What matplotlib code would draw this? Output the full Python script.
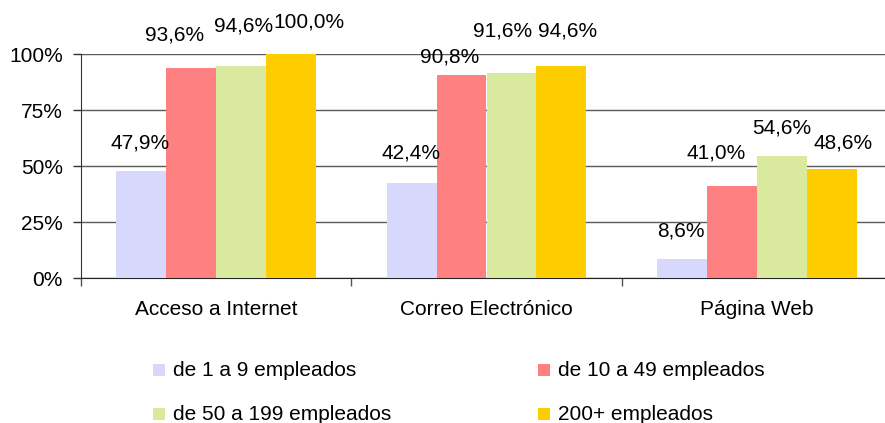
import matplotlib
matplotlib.use("Agg")
import matplotlib.pyplot as plt
from matplotlib.patches import Rectangle

categories = ["Acceso a Internet", "Correo Electrónico", "Página Web"]
series_names = ["de 1 a 9 empleados", "de 10 a 49 empleados",
                "de 50 a 199 empleados", "200+ empleados"]
v_1_9 = [47.9, 42.4, 8.6]
v_10_49 = [93.6, 90.8, 41.0]
v_50_199 = [94.6, 91.6, 54.6]
v_200 = [100.0, 94.6, 48.6]
values = [v_1_9, v_10_49, v_50_199, v_200]
y_ticks = [0, 25, 50, 75, 100]

colors = ["#D8D8FC", "#FF8080", "#D9EA9F", "#FFCC00"]

# label pixel offsets (dx, dy) mimicking the original's overlap avoidance
label_offsets = [
    [(-1, 28), (-1, 30), (-1, 28)],
    [(-17, 33), (-12, 18), (-16, 33)],
    [(2, 40), (-9, 42), (0, 28)],
    [(18, 32), (6, 35), (11, 26)],
]

FS = 15
plt.rcParams['font.family'] = ['Liberation Sans', 'DejaVu Sans']
W, H = 885, 423
fig = plt.figure(figsize=(W / 100, H / 100), dpi=100)
ax = fig.add_axes([81 / W, (H - 278) / H, (892 - 81) / W, (278 - 54) / H])

bw = 50 / 270.5
for i, (name, vals) in enumerate(zip(series_names, values)):
    xs = [c + (i - 1.5) * bw for c in range(len(categories))]
    ax.bar(xs, vals, width=bw, color=colors[i], zorder=3, linewidth=0)
    for j, (x, v) in enumerate(zip(xs, vals)):
        dx, dy = label_offsets[i][j]
        ax.annotate(f"{v:.1f}%".replace(".", ","), (x, v),
                    xytext=(dx, dy), textcoords="offset pixels",
                    ha="center", va="center", fontsize=FS, color="black",
                    zorder=5, annotation_clip=False)

ax.set_xlim(-0.5, 2.5)
ax.set_ylim(0, 100)
ax.set_yticks(y_ticks)
ax.set_yticklabels([f"{t}%" for t in y_ticks], fontsize=FS)
ax.yaxis.grid(True, color="#5a5a5a", linewidth=1.0, zorder=0)
ax.set_axisbelow(True)
ax.tick_params(axis="y", length=6, width=1, color="#333333", pad=7)

ax.set_xticks([-0.5, 0.5, 1.5])
ax.set_xticklabels([])
ax.set_xticks([0, 1, 2], minor=True)
ax.set_xticklabels(categories, minor=True, fontsize=FS)
ax.tick_params(axis="x", which="major", length=6, width=1, color="#555555", direction="out")
ax.tick_params(axis="x", which="minor", length=0, pad=15.5)

for s in ["top", "right"]:
    ax.spines[s].set_visible(False)
ax.spines["left"].set_color("#333333")
ax.spines["bottom"].set_color("#222222")

# legend, manually laid out in two columns
leg_pos = [(153, 370), (538, 370), (153, 414), (538, 414)]
for (px, py), name, col in zip(leg_pos, series_names, colors):
    fig.add_artist(Rectangle((px / W, (H - py - 6) / H), 12 / W, 12 / H,
                             transform=fig.transFigure, facecolor=col,
                             edgecolor="none"))
    fig.text((px + 20) / W, (H - py) / H, name, fontsize=FS,
             ha="left", va="center")

fig.savefig("out.png", dpi=100)
